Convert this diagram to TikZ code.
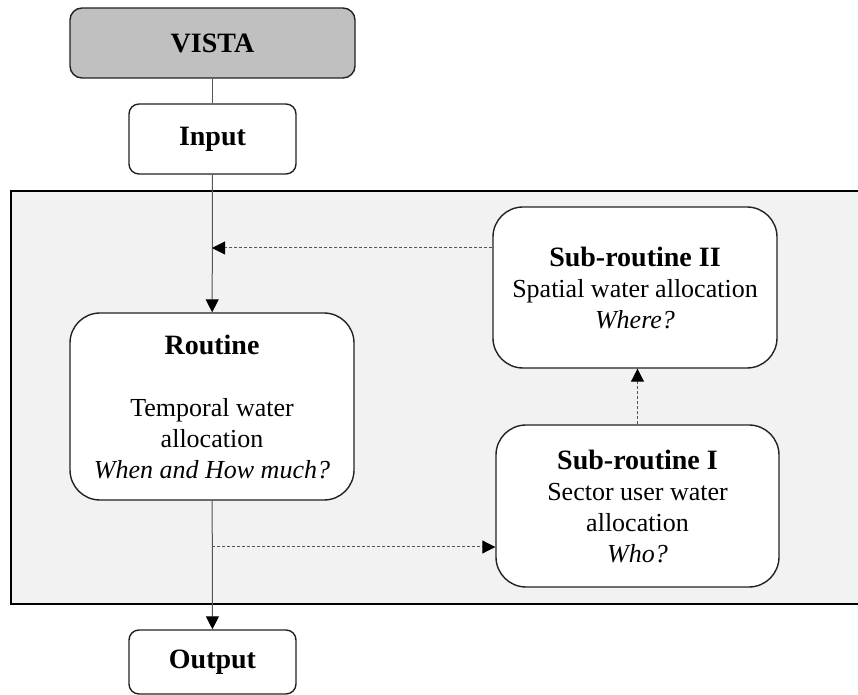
\documentclass[tikz,border=0pt]{standalone}
\usepackage{fontspec}
\setmainfont{Liberation Serif}
\usetikzlibrary{arrows.meta}
\definecolor{panelgray}{HTML}{F2F2F2}
\definecolor{vistagray}{HTML}{C0C0C0}
\definecolor{edgegray}{HTML}{222222}
\definecolor{linkgray}{HTML}{555555}
\tikzset{
  box/.style={draw=edgegray, line width=0.7pt, fill=white, align=center, inner sep=0pt,
    font=\fontsize{13}{15.5}\selectfont},
  link/.style={draw=linkgray, line width=0.5pt},
  arr/.style={-{Triangle[length=6.5pt,width=6.5pt,color=black]}},
  dlink/.style={link, dash pattern=on 1.5pt off 1pt}
}
\newcommand{\hd}[1]{{\fontsize{14}{15.5}\selectfont\bfseries #1}}
\begin{document}
\begin{tikzpicture}[x=0.5pt,y=-0.5pt]
\useasboundingbox (0,0) rectangle (858,695);
% panel
\draw[draw=black, line width=1pt, fill=panelgray] (11,191) rectangle (880,604);
% nodes
\node[box, fill=vistagray, rounded corners=6pt, minimum width=142.5pt, minimum height=35pt] (vista) at (212.5,43) {\hd{VISTA}};
\node[box, rounded corners=5pt, minimum width=83.5pt, minimum height=35pt] (input) at (212.5,139) {\hd{Input}};
\node[box, rounded corners=15pt, minimum width=142pt, minimum height=93.5pt] (routine) at (212,406.5)
  {\hd{Routine}\\[15.5pt]Temporal water\\allocation\\\textit{When and How much?}};
\node[box, rounded corners=15pt, minimum width=142pt, minimum height=80.5pt] (sub2) at (635,287.5)
  {\hd{Sub-routine II}\\Spatial water allocation\\\textit{Where?}};
\node[box, rounded corners=15pt, minimum width=141.5pt, minimum height=81pt] (sub1) at (637.5,506)
  {\hd{Sub-routine I}\\Sector user water\\allocation\\\textit{Who?}};
\node[box, rounded corners=5pt, minimum width=83.5pt, minimum height=32pt] (output) at (212.5,662) {\hd{Output}};
% junctions
\coordinate (j1) at (212,248);
\coordinate (j2) at (212,547);
% connectors
\draw[link] (vista) -- (input);
\draw[link, arr] (input) -- (routine);
\draw[link, arr] (routine) -- (output);
\draw[dlink, arr] (sub2.west |- j1) -- (j1);
\draw[dlink, arr] (j2) -- (sub1.west |- j2);
\draw[dlink, arr] (sub1.north) -- (sub1.north |- sub2.south);
\end{tikzpicture}
\end{document}
